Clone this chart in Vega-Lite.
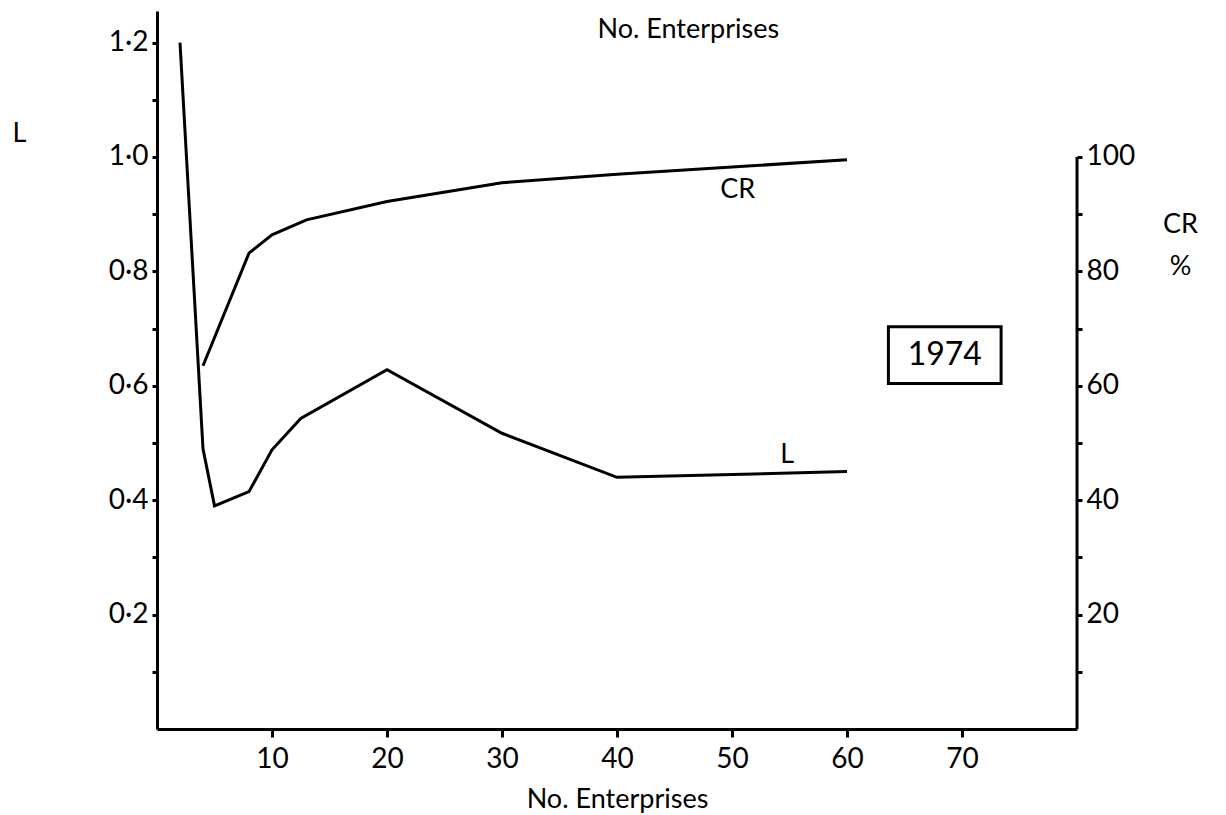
{
  "$schema": "https://vega.github.io/schema/vega-lite/v6.json",
  "width": 920,
  "height": 718,
  "autosize": {"type": "none"},
  "padding": {"left": 157, "top": 11, "right": 149, "bottom": 86},
  "background": "white",
  "config": {
    "font": "Lato",
    "view": {"stroke": null},
    "axis": {
      "grid": false,
      "domainColor": "black",
      "domainWidth": 3,
      "tickColor": "black",
      "tickWidth": 3,
      "labelColor": "black",
      "labelFont": "Lato",
      "labelFontSize": 28,
      "titleFont": "Lato",
      "titleFontSize": 27,
      "titleFontWeight": "normal",
      "titleColor": "black"
    }
  },
  "datasets": {
    "Lseries": [
      {"n": 2, "L": 1.2},
      {"n": 4, "L": 0.49},
      {"n": 5, "L": 0.39},
      {"n": 8, "L": 0.415},
      {"n": 10, "L": 0.488},
      {"n": 12.5, "L": 0.543},
      {"n": 20, "L": 0.628},
      {"n": 30, "L": 0.517},
      {"n": 40, "L": 0.44},
      {"n": 60, "L": 0.45}
    ],
    "CRseries": [
      {"n": 4, "CR": 63.5},
      {"n": 8, "CR": 83.2},
      {"n": 10, "CR": 86.4},
      {"n": 13, "CR": 89.0},
      {"n": 20, "CR": 92.2},
      {"n": 30, "CR": 95.5},
      {"n": 40, "CR": 97.0},
      {"n": 60, "CR": 99.5}
    ],
    "labels": [
      {"label": "CR", "n": 50.5, "v": 0.942, "size": 27},
      {"label": "L", "n": 54.8, "v": 0.479, "size": 27},
      {"label": "1974", "n": 68.5, "v": 0.653, "size": 32},
      {"label": "No. Enterprises", "n": 46.2, "v": 1.222, "size": 27}
    ],
    "box": [
      {"n1": 63.6, "n2": 73.4, "v1": 0.703, "v2": 0.604}
    ],
    "crAxis": [
      {"n": 80, "lo": 0, "hi": 100}
    ]
  },
  "layer": [
    {
      "layer": [
        {
          "data": {"name": "Lseries"},
          "mark": {"type": "line", "color": "black", "strokeWidth": 3, "strokeJoin": "miter"},
          "encoding": {
            "x": {
              "field": "n", "type": "quantitative",
              "scale": {"domain": [0, 80], "nice": false},
              "axis": {
                "values": [10, 20, 30, 40, 50, 60, 70],
                "tickSize": 8, "labelPadding": 8,
                "title": "No. Enterprises",
                "titleBaseline": "alphabetic",
                "titleY": 78
              }
            },
            "y": {
              "field": "L", "type": "quantitative",
              "scale": {"domain": [0, 1.2552], "nice": false, "zero": true},
              "axis": {
                "values": [0.1, 0.2, 0.3, 0.4, 0.5, 0.6, 0.7, 0.8, 0.9, 1.0, 1.1, 1.2],
                "labelExpr": "round(datum.value*10)%2==0 ? replace(format(datum.value,'.1f'),'.','·') : ''",
                "tickSize": 5, "labelPadding": 4,
                "title": "L",
                "titleAngle": 0,
                "titleAlign": "left",
                "titleBaseline": "alphabetic",
                "titleX": -145,
                "titleY": 130
              }
            }
          }
        },
        {
          "data": {"name": "labels"},
          "mark": {"type": "text", "color": "black", "font": "Lato"},
          "encoding": {
            "x": {"field": "n", "type": "quantitative"},
            "y": {"field": "v", "type": "quantitative"},
            "text": {"field": "label"},
            "size": {"field": "size", "type": "quantitative", "scale": null, "legend": null}
          }
        },
        {
          "data": {"name": "box"},
          "mark": {"type": "rect", "filled": false, "stroke": "black", "strokeWidth": 3},
          "encoding": {
            "x": {"field": "n1", "type": "quantitative"},
            "x2": {"field": "n2"},
            "y": {"field": "v1", "type": "quantitative"},
            "y2": {"field": "v2"}
          }
        }
      ]
    },
    {
      "layer": [
        {
          "data": {"name": "CRseries"},
          "mark": {"type": "line", "color": "black", "strokeWidth": 3, "strokeJoin": "miter"},
          "encoding": {
            "x": {"field": "n", "type": "quantitative"},
            "y": {
              "field": "CR", "type": "quantitative",
              "scale": {"domain": [0, 125.52], "nice": false},
              "axis": {
                "orient": "right",
                "domain": false,
                "values": [10, 20, 30, 40, 50, 60, 70, 80, 90, 100],
                "labelExpr": "datum.value%20==0 ? datum.label : ''",
                "tickSize": 5, "labelPadding": 4,
                "title": ["CR", "%"],
                "titleAngle": 0,
                "titleAlign": "center",
                "titleBaseline": "top",
                "titleLineHeight": 42,
                "titleX": 103,
                "titleY": 200
              }
            }
          }
        },
        {
          "data": {"name": "crAxis"},
          "mark": {"type": "rule", "color": "black", "strokeWidth": 3},
          "encoding": {
            "x": {"field": "n", "type": "quantitative"},
            "y": {"field": "lo", "type": "quantitative"},
            "y2": {"field": "hi"}
          }
        }
      ]
    }
  ],
  "resolve": {"scale": {"y": "independent"}}
}
